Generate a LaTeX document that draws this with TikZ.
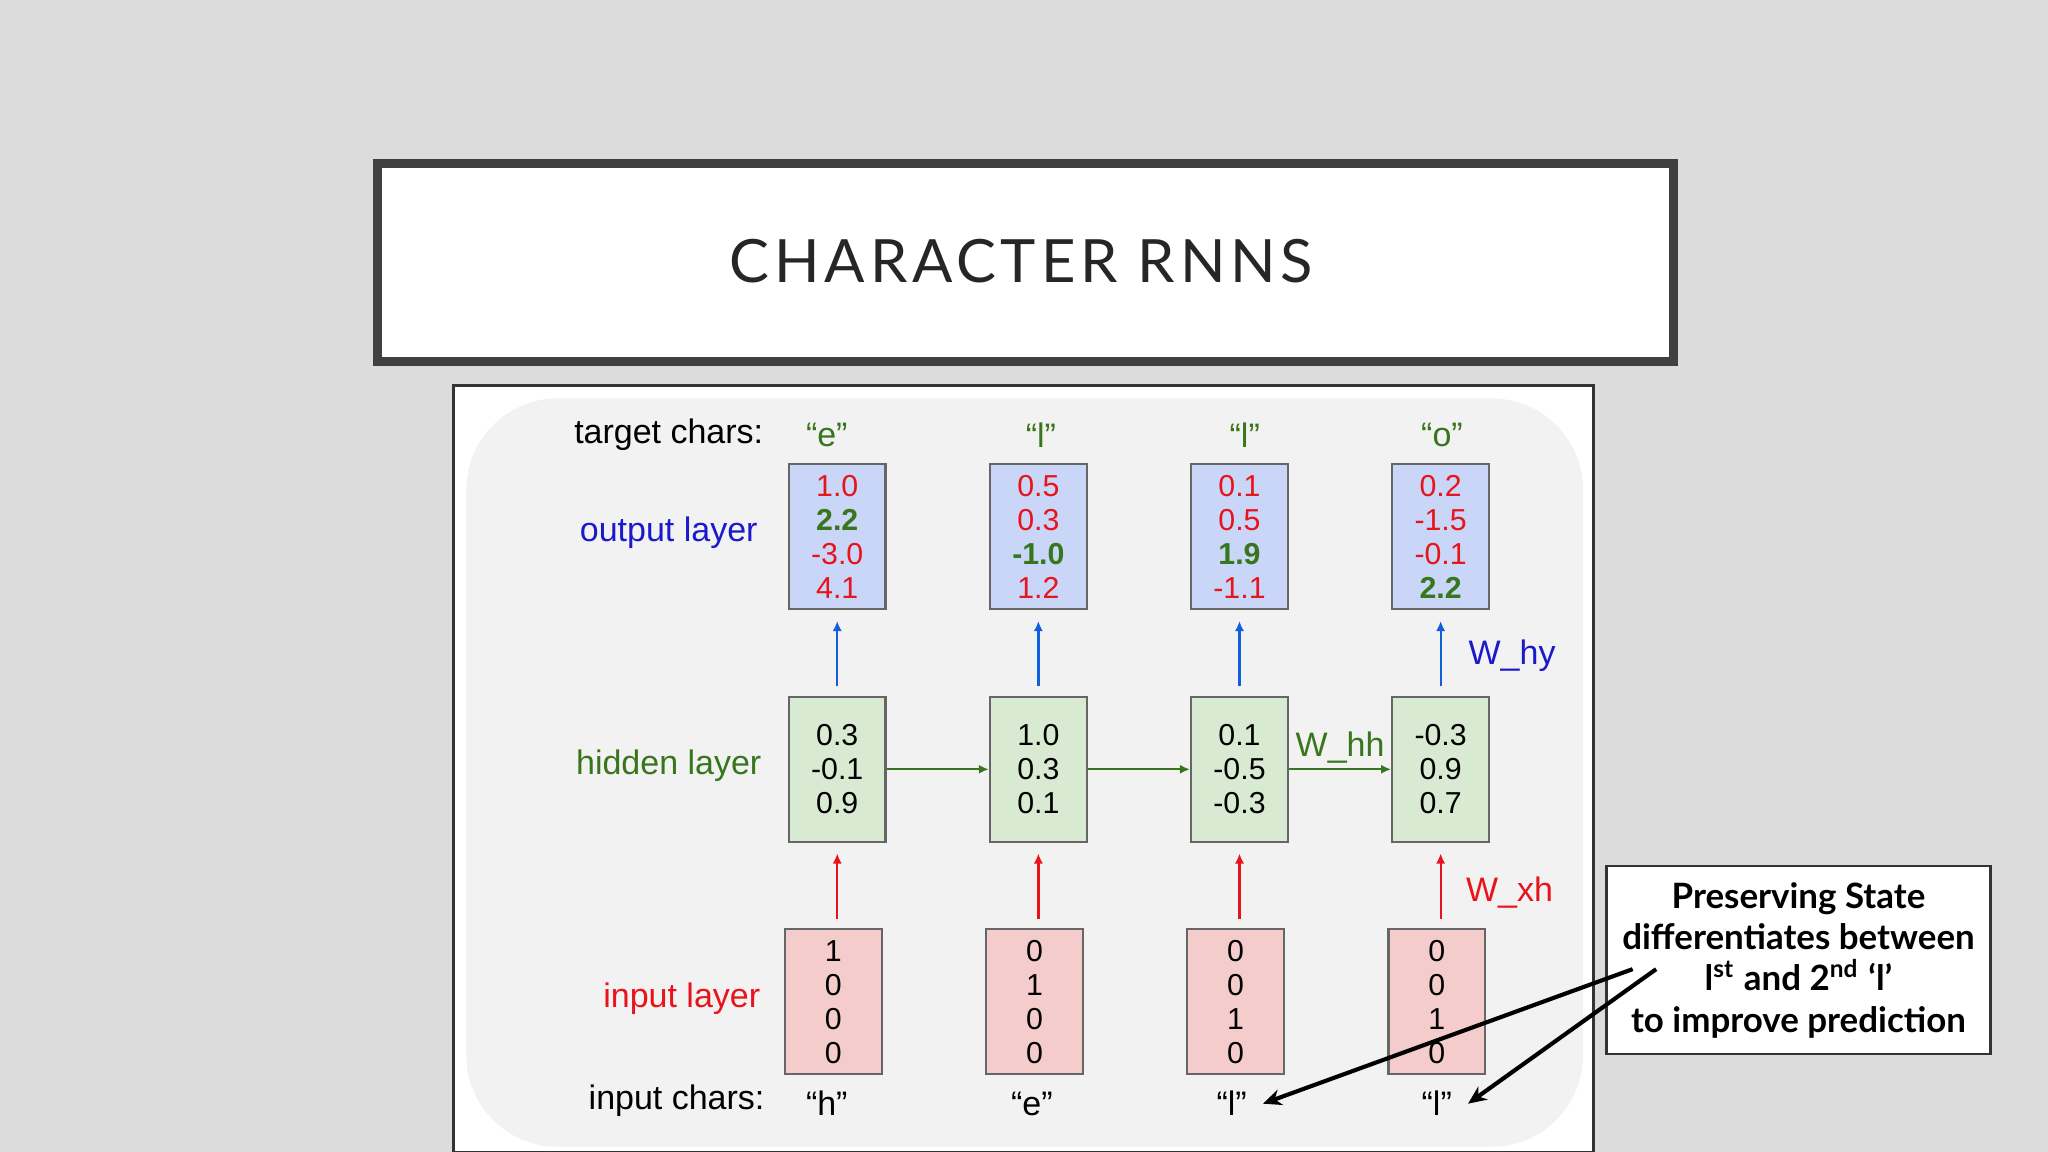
\documentclass[tikz,border=0pt]{standalone}
\usepackage{fontspec}
\setmainfont{Liberation Sans}
\newfontfamily\titlefont[LetterSpace=8]{Lato}
\newfontfamily\callfont{Lato}
\usetikzlibrary{arrows.meta}
\definecolor{bgray}{HTML}{DCDCDC}
\definecolor{panel}{HTML}{F2F2F2}
\definecolor{outfill}{HTML}{C9D6F7}
\definecolor{hidfill}{HTML}{D9EAD3}
\definecolor{infill}{HTML}{F4CCCC}
\definecolor{tgreen}{HTML}{38761D}
\definecolor{tred}{HTML}{E8141B}
\definecolor{tblue}{HTML}{1A1ACC}
\begin{document}
\begin{tikzpicture}[x=0.01cm,y=-0.01cm,
  cell/.style={draw=black!60,line width=0.5pt,minimum width=0.74cm,minimum height=1.11cm,
    align=center,inner sep=0pt,font=\fontsize{6.6}{7.4}\selectfont},
  outbox/.style={cell,fill=outfill},
  hidbox/.style={cell,fill=hidfill},
  inbox/.style={cell,fill=infill},
  lbl/.style={font=\fontsize{7.4}{8.4}\selectfont},
  arr/.style={-{Latex[length=2.2pt,width=2pt]},line width=0.5pt,shorten <=0.07cm,shorten >=0.08cm}]
\useasboundingbox (0,0) rectangle (1568,882);
\fill[bgray] (0,0) rectangle (1568,882);
% title
\node[draw=black!75,line width=2pt,fill=white,minimum width=9.92cm,minimum height=1.51cm] (title) at (785,201) {};
\node[font=\titlefont\fontsize{13}{15}\selectfont,text=black!85] (ttext) at (782,200) {CHARACTER RNNS};
% panel
\draw[black!80,fill=white,line width=0.6pt] (347,295) rectangle (1220,882);
\fill[panel,rounded corners=0.7cm] (357,305) rectangle (1212,878);
% row labels
\node[lbl] (lt) at (512,333) {target chars:};
\node[lbl,text=tblue] (lo) at (512,408) {output layer};
\node[lbl,text=tgreen] (lh) at (512,586) {hidden layer};
\node[lbl,text=tred] (li) at (522,765) {input layer};
\node[lbl] (lc) at (518,843) {input chars:};
% target chars
\foreach \x/\c [count=\i] in {633/e,797/l,953/l,1104/o}
  \node[lbl,text=tgreen] (t\i) at (\x,333) {``\c''};
% output layer
\node[outbox,text=tred] (o1) at (641,411) {1.0\\{\color{tgreen}\bfseries 2.2}\\-3.0\\4.1};
\node[outbox,text=tred] (o2) at (795,411) {0.5\\0.3\\{\color{tgreen}\bfseries -1.0}\\1.2};
\node[outbox,text=tred] (o3) at (949,411) {0.1\\0.5\\{\color{tgreen}\bfseries 1.9}\\-1.1};
\node[outbox,text=tred] (o4) at (1103,411) {0.2\\-1.5\\-0.1\\{\color{tgreen}\bfseries 2.2}};
% hidden layer
\node[hidbox] (h1) at (641,589) {0.3\\-0.1\\0.9};
\node[hidbox] (h2) at (795,589) {1.0\\0.3\\0.1};
\node[hidbox] (h3) at (949,589) {0.1\\-0.5\\-0.3};
\node[hidbox] (h4) at (1103,589) {-0.3\\0.9\\0.7};
% input layer
\node[inbox] (i1) at (638,767) {1\\0\\0\\0};
\node[inbox] (i2) at (792,767) {0\\1\\0\\0};
\node[inbox] (i3) at (946,767) {0\\0\\1\\0};
\node[inbox] (i4) at (1100,767) {0\\0\\1\\0};
% input chars
\foreach \x/\c [count=\i] in {633/h,790/e,943/l,1100/l}
  \node[lbl] (c\i) at (\x,845) {``\c''};
% connectors
\foreach \i in {1,2,3,4}{
  \draw[arr,tblue!70!cyan] (h\i.north) -- (o\i.south);
  \draw[arr,tred] (i\i.north -| h\i) -- (h\i.south);
}
\foreach \a/\b in {1/2,2/3,3/4}
  \draw[arr,tgreen,shorten <=0pt,shorten >=0pt] (h\a) -- (h\b);
\node[lbl,text=tblue,anchor=west] (why) at (1112,502) {W\_hy};
\node[lbl,text=tgreen] (whh) at (1026,572) {W\_hh};
\node[lbl,text=tred,anchor=west] (wxh) at (1110,683) {W\_xh};
% callout
\node[draw=black!80,fill=white,line width=0.6pt,minimum width=2.94cm,minimum height=1.44cm] (call) at (1377,735) {};
\node[font=\callfont\bfseries\fontsize{7.6}{9}\selectfont,align=center] (ctext) at (1377,735)
  {Preserving State\\differentiates between\\l\textsuperscript{st} and 2\textsuperscript{nd} ‘l’\\to improve prediction};
\coordinate (s1) at (1250,742);
\coordinate (s2) at (1268,742);
\draw[-{Stealth[length=4pt,width=3.5pt]},line width=0.9pt] (s1) -- (c3.east);
\draw[-{Stealth[length=4pt,width=3.5pt]},line width=0.9pt] (s2) -- (c4.east);
\end{tikzpicture}
\end{document}
